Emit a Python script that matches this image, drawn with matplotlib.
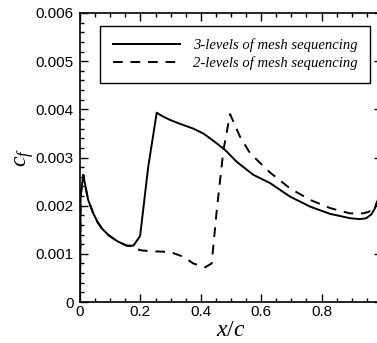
import matplotlib
matplotlib.use("Agg")
import matplotlib.pyplot as plt
from matplotlib.ticker import MultipleLocator

# skin friction along the chord, two mesh-sequencing runs
x_3lev = [0.0, 0.002, 0.011, 0.018, 0.027, 0.044, 0.058, 0.072, 0.094, 0.11,
          0.127, 0.155, 0.177, 0.199, 0.226, 0.254, 0.275, 0.298, 0.331,
          0.375, 0.408, 0.441, 0.48, 0.519, 0.574, 0.629, 0.695, 0.762,
          0.828, 0.894, 0.927, 0.948, 0.965, 0.976, 0.985]
cf_3lev = [0.0, 0.0022, 0.00264, 0.0024, 0.00212, 0.00184, 0.00166, 0.00153,
           0.00139, 0.00132, 0.00125, 0.00117, 0.00117, 0.00137, 0.00281,
           0.00393, 0.00385, 0.00378, 0.0037, 0.0036, 0.0035, 0.00335,
           0.00316, 0.00291, 0.00264, 0.00247, 0.00219, 0.00198, 0.00183,
           0.00174, 0.00172, 0.00174, 0.00182, 0.00194, 0.0021]

x_2lev = [0.0, 0.002, 0.011, 0.018, 0.027, 0.044, 0.058, 0.072, 0.094, 0.11,
          0.127, 0.155, 0.172, 0.182, 0.204, 0.25, 0.298, 0.342, 0.375,
          0.414, 0.436, 0.453, 0.475, 0.497, 0.53, 0.563, 0.629, 0.695,
          0.762, 0.828, 0.894, 0.938, 0.955, 0.968, 0.977, 0.985]
cf_2lev = [0.0, 0.0022, 0.00264, 0.0024, 0.00212, 0.00184, 0.00166, 0.00153,
           0.00139, 0.00132, 0.00125, 0.00117, 0.00116, 0.00111, 0.00107,
           0.00105, 0.00104, 0.00094, 0.0008, 0.00072, 0.0008, 0.00191,
           0.00316, 0.0039, 0.00343, 0.00309, 0.00269, 0.00236, 0.00212,
           0.00195, 0.00184, 0.00184, 0.00187, 0.00192, 0.00199, 0.00208]

series_labels = ["3-levels of mesh sequencing", "2-levels of mesh sequencing"]

plt.rcParams["font.family"] = "Liberation Sans"
plt.rcParams["mathtext.fontset"] = "custom"
plt.rcParams["mathtext.it"] = "Liberation Serif:italic"
plt.rcParams["mathtext.rm"] = "Liberation Serif"

fig = plt.figure(figsize=(3.77, 3.43), dpi=100)
ax = fig.add_axes([80 / 377, 41 / 343, 302 / 377, 289 / 343])

ax.plot(x_3lev, cf_3lev, color="black", lw=1.4, label=series_labels[0])
ax.plot(x_2lev, cf_2lev, color="black", lw=1.4, ls=(0, (5, 4)),
        label=series_labels[1])

ax.set_xlim(0, 1.0)
ax.set_ylim(0, 0.006)
ax.xaxis.set_minor_locator(MultipleLocator(0.05))
ax.yaxis.set_minor_locator(MultipleLocator(0.0002))
ax.set_xticks([0, 0.2, 0.4, 0.6, 0.8])
ax.set_xticklabels(["0", "0.2", "0.4", "0.6", "0.8"])
ax.set_yticks([0, 0.001, 0.002, 0.003, 0.004, 0.005, 0.006])
ax.set_yticklabels(["0", "0.001", "0.002", "0.003", "0.004", "0.005", "0.006"])
ax.tick_params(which="both", direction="in", top=True, right=True,
               labelsize=11, width=1.0, pad=2)
ax.tick_params(axis="y", which="major", pad=4.5)
ax.tick_params(which="major", length=6)
ax.tick_params(which="minor", length=3)
for s in ax.spines.values():
    s.set_linewidth(1.2)

ax.set_xlabel("$x/c$", fontsize=17, labelpad=0)
ax.set_ylabel("$c_f$", fontsize=17, labelpad=0)

leg = ax.legend(loc="upper right", bbox_to_anchor=(0.96, 0.955),
                borderaxespad=0,
                prop={"family": "Liberation Serif", "style": "italic",
                      "size": 10.5},
                handlelength=4.6, fancybox=False, framealpha=1,
                edgecolor="black", borderpad=0.85, labelspacing=0.3,
                handletextpad=0.9)
leg.get_frame().set_linewidth(1.0)

fig.savefig("out.png", dpi=100)
